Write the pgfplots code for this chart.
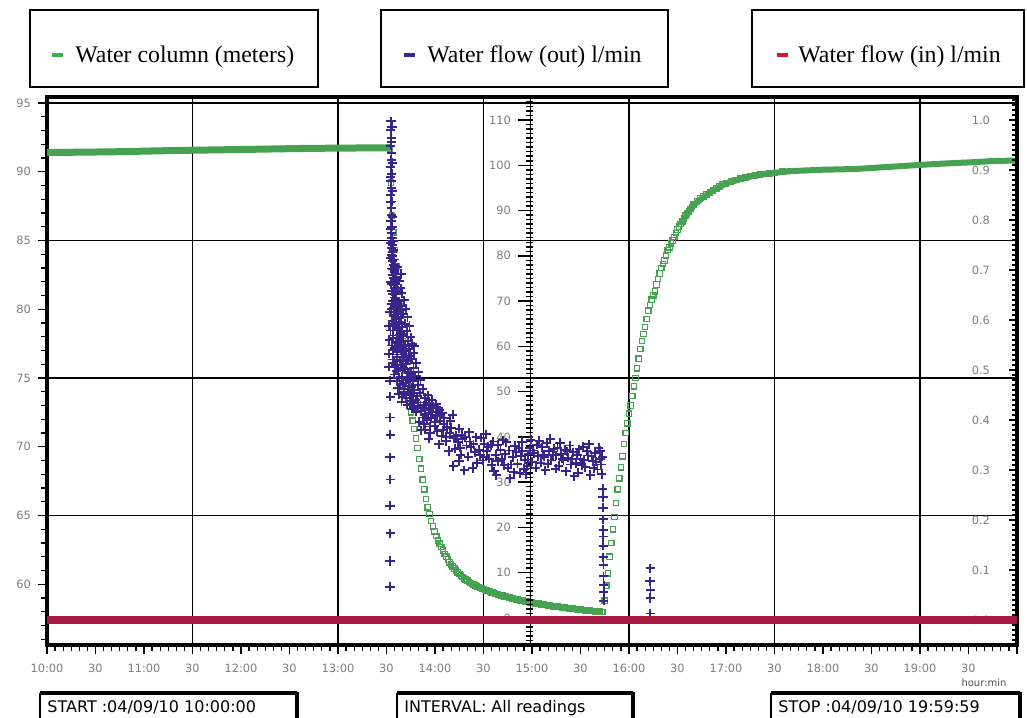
\documentclass[border=0pt]{standalone}
\usepackage{fontspec}
\setmainfont{Liberation Serif}
\newfontfamily\dv{DejaVu Sans}
\usepackage{pgfplots}
\pgfplotsset{compat=1.18}

\definecolor{colgreen}{RGB}{70,162,80}
\definecolor{colpurple}{RGB}{56,36,138}
\definecolor{colred}{RGB}{166,24,66}
\definecolor{colredkey}{RGB}{206,30,52}
\definecolor{colgreenkey}{RGB}{60,175,80}
\definecolor{colpurplekey}{RGB}{50,40,150}
\definecolor{ticktext}{RGB}{125,125,125}

\newcommand{\tickfont}{\dv\fontsize{5.7}{6.5}\selectfont}

% time axis in minutes after 10:00
\pgfplotsset{
  chartframe/.style={
    at={(23.5pt,36pt)}, anchor=south west,
    scale only axis, width=485pt, height=274pt,
    xmin=0, xmax=600,
  },
}

% water column, flat stretches (solid band of readings)
\pgfplotstableread{
min level
0     91.40
40    91.45
80    91.55
120   91.62
160   91.70
212.2 91.75
}\colflatA

\pgfplotstableread{
min level
392 86.20
400 87.60
410 88.50
420 89.15
430 89.50
440 89.80
460 90.05
480 90.15
500 90.20
520 90.35
540 90.50
555 90.60
570 90.68
585 90.78
600 90.82
}\colflatB

% water column, drawdown readings
\pgfplotstableread{
min level
212.2 91.7
212.7 89.2
213.3 86.8
214.2 85.6
215.2 84.3
216.3 83.1
217.3 81.6
218.3 80.2
219.3 78.9
220.3 77.7
221.3 76.6
222.3 75.5
223.3 74.4
224.3 73.3
225.2 72.5
226.2 71.9
227.2 71.3
228.2 70.6
229.2 69.9
230.3 69.1
231.3 68.4
232.4 67.6
233.4 66.9
234.5 66.2
235.5 65.6
236.6 65.1
237.6 64.6
238.7 64.2
239.7 63.85
240.8 63.5
241.8 63.2
242.9 62.95
243.9 62.7
245 62.45
246 62.2
247 62.0
248 61.8
249 61.6
250 61.45
251 61.3
252 61.15
253 61.0
254 60.87
255 60.75
256 60.63
257 60.52
258 60.42
259 60.33
260 60.25
261 60.17
262 60.10
263 60.03
264 59.97
265 59.91
266 59.85
267 59.79
268 59.74
269 59.69
270 59.64
271 59.59
272 59.55
273 59.50
274 59.46
275 59.42
276 59.38
277 59.34
278 59.30
279 59.26
280 59.23
281 59.19
282 59.16
283 59.12
284 59.09
285 59.06
286 59.03
287 59.00
288 58.97
289 58.94
290 58.91
291 58.88
292 58.86
293 58.83
294 58.81
295 58.78
296 58.76
297 58.73
298 58.71
299 58.69
300 58.67
301 58.64
302 58.62
303 58.60
304 58.58
305 58.56
306 58.54
307 58.52
308 58.50
309 58.48
310 58.46
311 58.44
312 58.42
313 58.40
314 58.39
315 58.37
316 58.36
317 58.34
318 58.33
319 58.31
320 58.30
321 58.28
322 58.27
323 58.25
324 58.24
325 58.22
326 58.21
327 58.19
328 58.18
329 58.16
330 58.15
331 58.13
332 58.12
333 58.11
334 58.10
335 58.08
336 58.07
337 58.06
338 58.05
339 58.03
340 58.02
341 58.01
342 58.00
343 57.99
344 57.98
}\coldown

% water column, recovery readings
\pgfplotstableread{
min level
345 58.8
346 59.9
347 60.8
348 62.0
349 63.0
350 64.0
351 64.9
352 65.9
353 66.9
354 67.7
355 68.5
356 69.3
357 70.2
358 71.0
359 71.7
360 72.4
361 73.0
362 73.7
363 74.4
364 75.0
365 75.7
366 76.4
367 77.1
368 77.7
369 78.2
370 78.7
371 79.3
372 79.9
373 80.3
374 80.7
375 81.0
376 81.3
377 81.8
378 82.2
379 82.6
380 83.0
381 83.3
382 83.55
383 83.9
384 84.3
385 84.5
386 84.8
387 85.0
388 85.25
389 85.55
390 85.8
391 86.0
392 86.2
393 86.4
394 86.6
395 86.8
396 86.95
397 87.1
398 87.3
399 87.45
400 87.6
402 87.85
404 88.05
406 88.2
408 88.35
410 88.5
412 88.65
414 88.8
416 88.95
418 89.1
420 89.15
423 89.3
426 89.4
429 89.5
432 89.6
435 89.7
438 89.75
441 89.8
444 89.85
447 89.88
450 89.9
455 90.0
460 90.05
}\colup

% outflow readings, l/min
\pgfplotstableread{
min flow
212.2 6.9
212.2 12.6
212.3 18.7
212.2 24.8
212.3 30.6
212.2 35.5
212.3 40.5
212.2 44.3
212.3 48.9
212.2 52.4
211.6 55.5
211.4 58.4
211.8 61.4
211.5 64.5
212.0 67.5
212.8 109.7
212.6 107.8
213.0 106.0
212.7 104.3
213.1 102.8
212.9 101.2
212.6 99.6
213.2 98.1
212.8 96.6
213.0 95.0
212.7 93.5
213.3 92.0
212.9 90.6
213.1 89.1
212.8 87.7
213.4 86.4
213.0 85.0
213.6 83.9
212.7 82.8
213.3 81.7
213.9 80.8
213.1 80.2
213.4 108.5
212.9 105.2
213.5 100.5
212.5 97.5
213.6 94.3
212.6 91.8
213.7 88.6
212.5 86.0
214.0 83.2
212.6 79.5
213.5 78.8
214.2 78.0
213.0 77.2
214.8 76.5
213.7 75.8
215.2 75.0
212.8 74.2
214.4 73.6
215.8 73.0
213.3 72.2
216.2 71.5
214.9 70.8
213.9 70.1
216.8 69.5
215.5 68.9
212.9 68.2
217.3 67.6
214.6 67.0
216.1 66.3
213.6 65.7
218.0 65.2
215.2 64.6
217.0 64.0
212.5 63.5
218.6 63.0
214.1 62.4
216.5 61.8
219.2 61.3
215.6 60.7
213.2 60.2
217.8 59.8
212.9 84.0
213.8 82.4
214.3 81.2
213.5 80.0
214.6 79.2
215.4 77.8
213.9 77.0
215.9 76.0
214.3 75.2
216.4 74.6
213.1 73.8
215.0 72.9
217.1 72.3
214.0 71.6
215.7 70.4
217.6 70.0
213.4 69.3
216.2 68.5
218.3 68.0
214.5 68.6
219.0 66.6
215.8 66.0
217.6 65.4
214.0 64.9
219.6 64.3
216.2 63.6
218.0 62.5
220.3 62.2
213.8 61.9
217.1 61.0
220.8 60.3
215.0 59.6
218.9 59.3
222.0 59.0
216.8 57.7
220.0 57.0
223.5 56.8
214.5 56.4
219.1 55.9
221.6 54.9
216.0 54.6
224.9 54.0
218.0 53.1
222.8 52.6
226.3 52.3
220.1 51.7
223.9 51.2
217.0 50.8
227.2 50.4
221.0 49.9
224.6 49.4
229.0 49.0
219.8 48.9
226.0 48.0
229.6 47.6
222.9 47.1
231.0 46.9
225.8 46.2
233.0 47.0
228.5 45.6
219.5 71.8
220.8 70.2
218.7 69.0
221.9 68.3
220.2 67.1
223.0 66.4
221.2 65.0
224.2 64.5
222.5 63.4
219.8 62.8
225.0 62.0
223.3 61.1
221.7 60.0
226.0 60.6
218.8 72.8
217.9 74.5
219.0 76.0
216.9 77.5
224.0 59.4
226.8 58.5
225.0 57.2
228.3 56.4
226.7 55.2
229.8 54.4
227.9 53.4
231.0 52.6
229.4 51.5
232.4 50.6
230.6 49.8
233.8 48.6
235.5 49.2
224.0 57.9
227.0 60.0
236.5 47.4
238.0 48.2
240.8 47.2
237.3 46.3
243.0 45.9
241.3 44.8
245.7 44.2
234.0 45.0
214.0 59.2
219.8 58.7
216.3 58.2
221.0 57.6
213.7 57.1
218.4 56.7
222.2 56.2
215.5 55.8
220.3 55.3
217.2 54.8
223.4 54.3
214.8 53.8
219.5 53.3
224.5 52.9
216.6 52.4
221.8 52.0
218.5 51.4
225.6 51.0
220.7 50.5
223.2 50.0
217.6 49.5
226.5 49.0
222.0 48.6
228.0 48.2
219.3 47.8
224.8 47.3
227.2 46.8
229.5 46.3
231.2 45.7
233.8 45.9
236.0 45.2
238.3 45.5
240.5 44.6
232.5 44.3
235.0 43.8
237.8 44.1
243.0 43.6
230.3 43.2
245.5 42.8
239.8 42.4
247.6 42.2
234.0 41.6
237.0 40.8
241.5 41.2
244.0 40.2
236.2 39.6
249.0 40.9
251.5 39.7
246.8 39.1
254.0 38.8
242.5 38.4
257.0 39.5
259.5 38.1
252.5 37.4
262.0 37.8
248.5 36.9
264.5 36.6
256.0 36.1
267.0 37.2
260.6 35.6
254.8 34.7
266.0 34.3
251.2 33.6
263.3 33.1
258.0 32.6
255.0 41.8
249.5 43.6
251.0 44.9
244.5 45.3
242.0 46.5
239.0 46.8
234.5 47.6
236.8 42.3
240.2 43.2
233.2 42.8
231.5 41.5
245.0 41.5
247.0 40.0
250.0 42.0
253.0 40.2
255.5 37.6
258.5 40.0
261.5 39.0
263.8 38.4
265.5 39.9
268.0 36.0
269.5 34.8
271.5 40.6
273.0 37.8
276.0 39.0
278.8 38.3
281.2 35.1
282.8 33.8
285.8 37.0
288.8 32.2
291.8 37.6
293.0 35.7
295.0 33.0
297.8 36.2
299.3 39.4
300.8 37.0
303.8 35.8
306.8 36.1
309.8 34.1
312.8 36.0
315.8 37.6
318.8 35.2
321.8 36.8
324.8 35.1
327.8 36.0
330.8 33.8
333.8 36.9
336.8 35.8
339.8 34.5
342.2 36.9
268.5 39.8
270.5 38.5
272.0 36.9
273.5 35.2
275.0 33.8
276.5 32.4
278.0 31.6
279.0 34.6
280.5 37.1
282.0 39.3
283.5 36.2
285.0 33.2
286.5 30.9
288.0 35.5
289.5 38.0
291.0 34.1
292.5 32.0
294.0 36.8
295.5 35.0
297.0 33.5
298.5 37.5
300.0 34.5
301.5 36.4
303.0 38.3
304.5 39.2
306.0 37.7
307.5 35.6
309.0 38.6
310.5 36.9
312.0 34.8
313.5 37.4
315.0 35.9
316.5 33.6
318.0 36.3
319.5 34.9
321.0 32.4
322.5 35.4
324.0 33.9
325.5 36.6
327.0 34.2
328.5 32.1
330.0 35.1
331.5 37.8
333.0 33.3
334.5 35.9
336.0 31.6
337.5 34.7
339.0 36.4
340.5 32.8
342.0 35.2
342.8 33.9
343.2 31.8
343.4 35.6
256.5 40.5
261.0 41.0
270.0 35.6
274.5 38.2
277.5 36.0
284.0 38.8
287.2 33.9
290.2 36.6
293.8 38.9
296.2 31.7
302.2 33.2
305.5 34.3
308.2 32.6
311.2 39.6
314.6 33.0
317.3 38.7
320.2 37.2
323.3 38.1
326.2 31.3
329.2 37.3
332.2 35.0
335.2 38.4
338.2 33.1
341.2 37.6
343.8 28.5
343.9 26.7
343.9 24.4
344.0 21.8
344.0 19.5
344.1 18.0
344.1 16.0
344.1 13.4
344.2 11.8
344.2 9.2
344.3 7.2
344.3 5.7
344.4 3.8
373.2 11.0
373.0 8.1
373.3 6.2
373.1 4.4
373.2 1.0
}\flowout

\begin{document}
\begin{tikzpicture}
\useasboundingbox (0,0) rectangle (513.5pt,358.5pt);
\clip (0,0) rectangle (513.5pt,358.5pt);

% left axis: water column in metres, with the time axis and the grid
\begin{axis}[chartframe,
  ymin=55.58, ymax=95.44,
  axis line style={line width=1.6pt},
  xtick={0,30,...,600},
  xticklabels={10:00,30,11:00,30,12:00,30,13:00,30,14:00,30,15:00,30,16:00,30,17:00,30,18:00,30,19:00,30,},
  minor xtick={0,5,...,600},
  ytick={60,65,...,95},
  minor ytick={56,57,...,95},
  tick align=outside, xtick pos=bottom, ytick pos=left,
  major tick length=4.5pt, minor tick length=2.8pt,
  every tick/.append style={black, line width=0.6pt},
  tick label style={font=\tickfont, text=ticktext},
  xticklabel style={yshift=-1.5pt},
  /pgf/number format/assume math mode=true,
  extra x ticks={90,180,...,540},
  extra x tick labels={},
  extra x tick style={grid=major, major tick length=0pt},
  extra y ticks={65,75,85,95},
  extra y tick labels={},
  extra y tick style={grid=major, major tick length=0pt},
  major grid style={black, line width=0.7pt},
]
\addplot[colgreen, line width=3.5pt] table[x=min, y=level] {\colflatA};
\addplot[colgreen, line width=3pt] table[x=min, y=level] {\colflatB};
\addplot[only marks, mark=square, mark size=1.35pt, colgreen,
  mark options={line width=0.6pt}] table[x=min, y=level] {\coldown};
\addplot[only marks, mark=square, mark size=1.35pt, colgreen,
  mark options={line width=0.6pt}] table[x=min, y=level] {\colup};
\end{axis}

% outflow scale drawn as a ruler at 15:00
\begin{axis}[
  at={(265pt,36pt)}, anchor=south west,
  scale only axis, width=5pt, height=274pt,
  xmin=0, xmax=1, ymin=-5.96, ymax=115.09,
  axis x line=none, axis y line*=left,
  axis line style={line width=0.5pt},
  ytick={0,10,...,110}, minor ytick={-5,-4,...,115},
  tick align=outside,
  major tick length=6pt, minor tick length=3.6pt,
  minor tick style={xshift=1.4pt},
  every tick/.append style={black, line width=0.75pt},
  tick label style={font=\tickfont, text=ticktext},
  /pgf/number format/assume math mode=true,
]
\end{axis}

% outflow readings
\begin{axis}[chartframe, ymin=-5.96, ymax=115.09, axis lines=none]
\addplot[only marks, mark=+, mark size=2.3pt, colpurple,
  mark options={line width=0.95pt}] table[x=min, y=flow] {\flowout};
\end{axis}

% right axis: inflow, l/min
\begin{axis}[chartframe, ymin=-0.05, ymax=1.046,
  axis x line=none, axis y line*=right,
  axis line style={line width=1.6pt},
  ytick={0,0.1,0.2,0.3,0.4,0.5,0.6,0.7,0.8,0.9,1.0},
  minor ytick={-0.04,-0.03,...,1.045},
  tick align=inside,
  major tick length=4pt, minor tick length=2.5pt,
  every tick/.append style={black, line width=0.6pt},
  yticklabel pos=right,
  yticklabel style={anchor=east, xshift=-10pt, font=\tickfont, text=ticktext},
  /pgf/number format/fixed, /pgf/number format/fixed zerofill,
  /pgf/number format/precision=1,
  /pgf/number format/assume math mode=true,
]
\addplot[colred, line width=3.6pt] coordinates {(0,0) (600,0)};
\end{axis}

\begin{scope}[x=0.5pt, y=0.5pt]
  % series keys
  \draw[line width=0.75pt] (30,630) rectangle (318,707);
  \draw[line width=0.75pt] (381,630) rectangle (668,707);
  \draw[line width=0.75pt] (752,630) rectangle (1024,707);
  \fill[colgreenkey] (52,660) rectangle (63,663.5);
  \fill[colpurplekey] (404,660) rectangle (415,663.5);
  \fill[colredkey] (777,660) rectangle (788,663.5);
  \node[anchor=base west, inner sep=0, font=\fontsize{11.9}{14}\selectfont] at (75,654) {Water column (meters)};
  \node[anchor=base west, inner sep=0, font=\fontsize{11.9}{14}\selectfont] at (427,654) {Water flow (out) l/min};
  \node[anchor=base west, inner sep=0, font=\fontsize{11.9}{14}\selectfont] at (798,654) {Water flow (in) l/min};

  % unit note under the time axis
  \node[anchor=base, inner sep=0, font=\dv\fontsize{5}{6}\selectfont, text=black!70] at (984,31) {hour:min};

  % logger information boxes
  \foreach \l/\r in {40/297, 397/633, 771/1020} {
    \draw[line width=1pt] (\l,-5) -- (\l,24);
    \draw[line width=1.6pt] (\l-0.5,24) -- (\r,24);
    \draw[line width=2pt] (\r,25) -- (\r,-5);
  }
  \node[anchor=base west, inner sep=0, font=\dv\fontsize{8}{9}\selectfont] at (47,5) {START :04/09/10 10:00:00};
  \node[anchor=base west, inner sep=0, font=\dv\fontsize{8}{9}\selectfont] at (404,5) {INTERVAL: All readings};
  \node[anchor=base west, inner sep=0, font=\dv\fontsize{8}{9}\selectfont] at (778,5) {STOP :04/09/10 19:59:59};
\end{scope}
\end{tikzpicture}
\end{document}
